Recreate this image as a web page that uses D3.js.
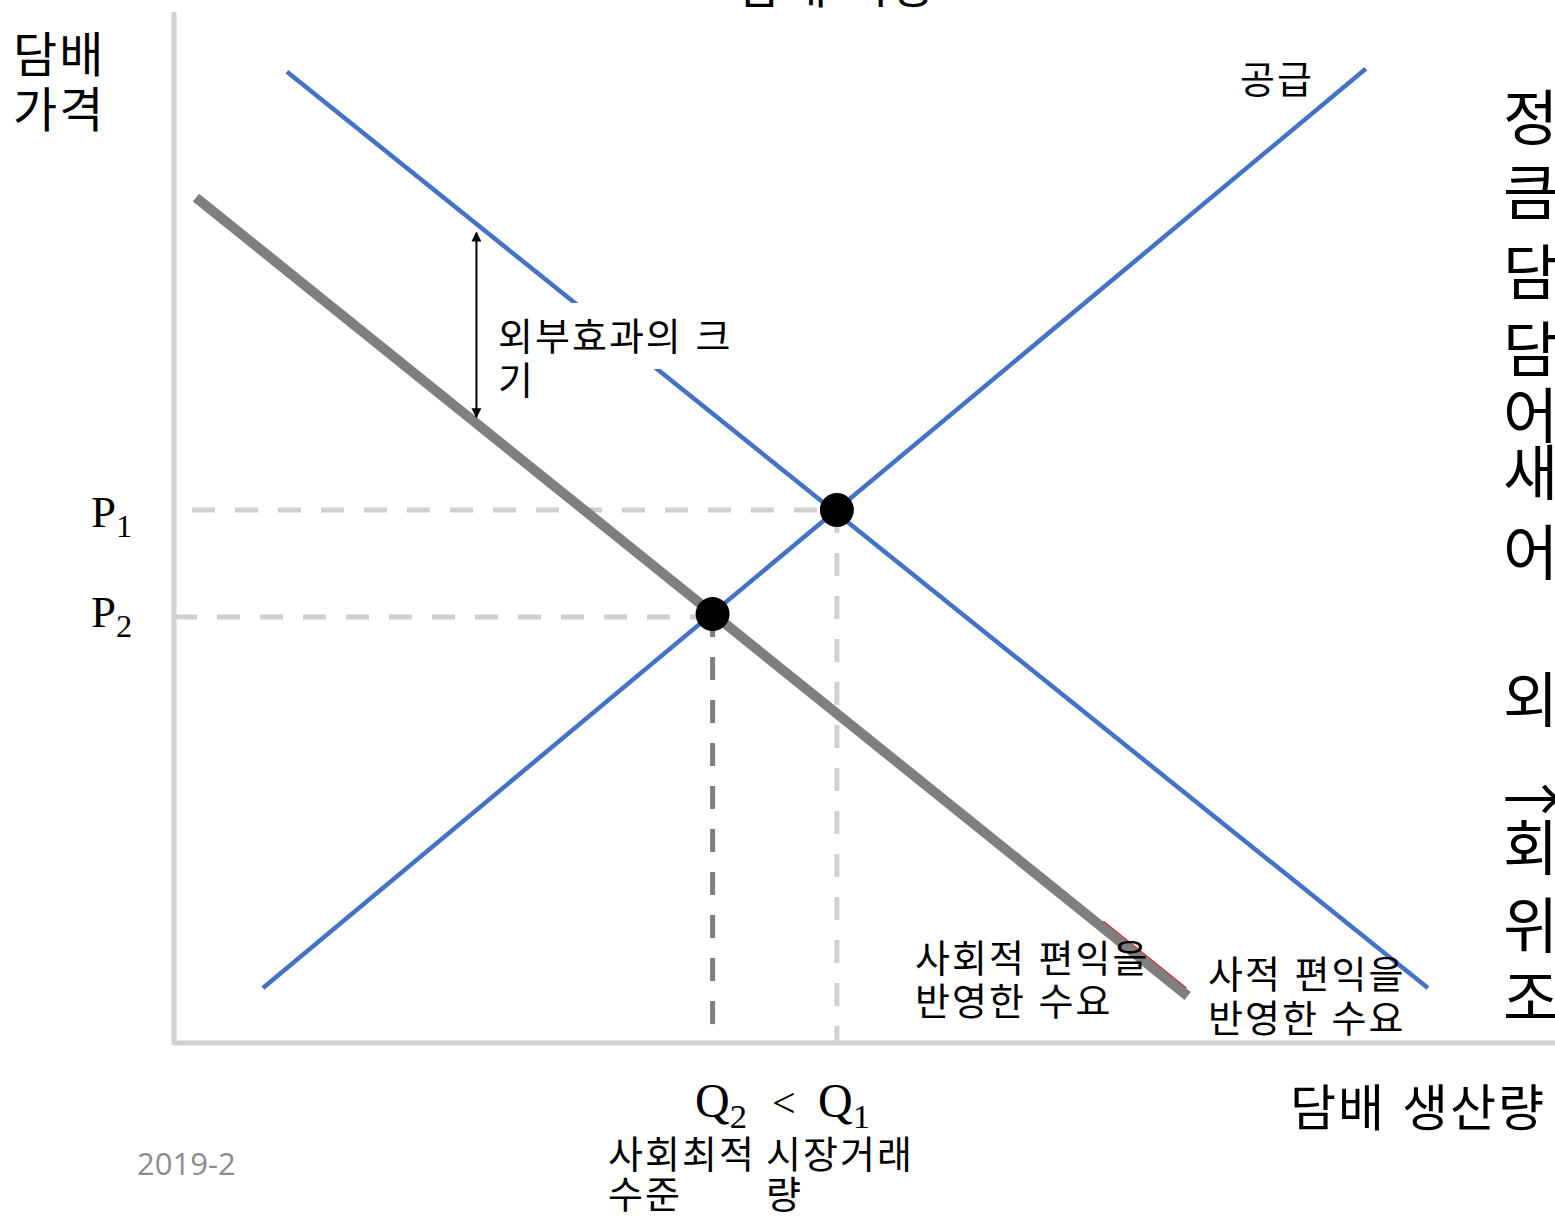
<!DOCTYPE html>
<html lang="ko">
  <head>
    <meta charset="UTF-8" />
    <title>담배 시장</title>
    <style>
      body {
        margin: 0;
        background: #fff;
      }
      .kr {
        font-family: "Noto Sans CJK KR", sans-serif;
        fill: #000;
        letter-spacing: 2px;
      }
      .serif {
        font-family: "Liberation Serif", "DejaVu Serif", serif;
        fill: #000;
      }
    </style>
  </head>
  <body>
    <svg width="1555" height="1221"></svg>
    <script src="https://cdnjs.cloudflare.com/ajax/libs/d3/7.8.5/d3.min.js"></script>
    <script>
      // 곡선 (수량, 가격) — 그림에서 읽은 값
      const supply = [[6.44, 5.33], [86.3, 94.5]];
      const privateDemand = [[8.18, 94.2], [90.8, 5.33]];
      const socialDemand = [[1.59, 82.0], [73.4, 4.56]];
      const redTrace = [[67.3, 11.8], [73.3, 5.33]];
      // 균형점
      const eq1 = { q: 48.0, p: 51.7 }; // 시장 균형
      const eq2 = { q: 39.0, p: 41.6 }; // 사회적 최적
      const pLine1 = 1.3; // P1 점선 시작
      // 외부효과 화살표
      const extArrow = { q: 21.9, top: 78.7, bottom: 60.6 };

      const rightChars = [
        ["정", 140], ["큼", 215], ["담", 295], ["담", 372], ["어", 438],
        ["새", 495], ["어", 575], ["외", 722], ["→", 822], ["회", 870],
        ["위", 948], ["조", 1020]
      ];

      const svg = d3.select("svg");
      const x = d3.scaleLinear().domain([0, 100]).range([174, 1555]);
      const y = d3.scaleLinear().domain([0, 100]).range([1043, 12]);
      const line = d3.line().x((d) => x(d[0])).y((d) => y(d[1]));

      svg.append("defs").selectAll("marker")
        .data(["start", "end"])
        .join("marker")
        .attr("id", (d) => "arr-" + d)
        .attr("viewBox", "0 0 10 10")
        .attr("refX", 9).attr("refY", 5)
        .attr("markerWidth", 5).attr("markerHeight", 5)
        .attr("orient", "auto-start-reverse")
        .append("path")
        .attr("d", "M0,0 L10,5 L0,10 z")
        .attr("fill", "#000");

      // 축
      svg.append("line")
        .attr("x1", x(0)).attr("x2", x(0))
        .attr("y1", y(100)).attr("y2", y(0) + 2)
        .attr("stroke", "#d0d0d0").attr("stroke-width", 5);
      svg.append("line")
        .attr("x1", x(0)).attr("x2", x(100))
        .attr("y1", y(0)).attr("y2", y(0))
        .attr("stroke", "#d0d0d0").attr("stroke-width", 5);

      // 점선
      const dash = "23,20";
      svg.append("line")
        .attr("x1", x(pLine1)).attr("x2", x(eq1.q))
        .attr("y1", y(eq1.p)).attr("y2", y(eq1.p))
        .attr("stroke", "#d0d0d0").attr("stroke-width", 5)
        .attr("stroke-dasharray", dash);
      svg.append("line")
        .attr("x1", x(0)).attr("x2", x(eq2.q))
        .attr("y1", y(eq2.p) + 3).attr("y2", y(eq2.p) + 3)
        .attr("stroke", "#d0d0d0").attr("stroke-width", 5)
        .attr("stroke-dasharray", dash);
      svg.append("line")
        .attr("x1", x(eq1.q)).attr("x2", x(eq1.q))
        .attr("y1", y(eq1.p)).attr("y2", y(0))
        .attr("stroke", "#d0d0d0").attr("stroke-width", 5)
        .attr("stroke-dasharray", dash);
      svg.append("line")
        .attr("x1", x(eq2.q)).attr("x2", x(eq2.q))
        .attr("y1", y(eq2.p)).attr("y2", y(0))
        .attr("stroke", "#7f7f7f").attr("stroke-width", 5)
        .attr("stroke-dasharray", dash);

      // 곡선
      svg.append("path").datum(redTrace).attr("d", line)
        .attr("stroke", "#e02020").attr("stroke-width", 1.5).attr("fill", "none");
      svg.append("path").datum(socialDemand).attr("d", line)
        .attr("stroke", "#7f7f7f").attr("stroke-width", 10).attr("fill", "none");
      svg.append("path").datum(privateDemand).attr("d", line)
        .attr("stroke", "#4472c4").attr("stroke-width", 4.5).attr("fill", "none");
      svg.append("path").datum(supply).attr("d", line)
        .attr("stroke", "#4472c4").attr("stroke-width", 4.5).attr("fill", "none");

      // 라벨 배경 상자
      svg.append("rect")
        .attr("x", 495).attr("y", 303).attr("width", 245).attr("height", 66)
        .attr("fill", "#fff");

      svg.append("line")
        .attr("x1", x(extArrow.q)).attr("x2", x(extArrow.q))
        .attr("y1", y(extArrow.top) + 1).attr("y2", y(extArrow.bottom) - 1)
        .attr("stroke", "#000").attr("stroke-width", 2)
        .attr("marker-start", "url(#arr-start)")
        .attr("marker-end", "url(#arr-end)");

      svg.selectAll("circle.eq")
        .data([eq1, eq2])
        .join("circle")
        .attr("class", "eq")
        .attr("cx", (d) => x(d.q)).attr("cy", (d) => y(d.p))
        .attr("r", 17).attr("fill", "#000");

      // 텍스트
      function txt(str, tx, ty, size) {
        return svg.append("text").attr("class", "kr")
          .attr("x", tx).attr("y", ty).attr("font-size", size).text(str);
      }
      txt("담배 시장", 737, 3, 48);
      txt("담배", 13, 72, 48);
      txt("가격", 13, 127, 48);
      txt("공급", 1240, 93, 38);
      txt("외부효과의 크", 498, 350, 38);
      txt("기", 498, 394, 38);
      txt("사회적 편익을", 915, 972, 38);
      txt("반영한 수요", 915, 1015, 38);
      txt("사적 편익을", 1208, 988, 38);
      txt("반영한 수요", 1208, 1032, 38);
      txt("사회최적", 608, 1168, 38);
      txt("시장거래", 766, 1168, 38);
      txt("수준", 608, 1208, 38);
      txt("량", 766, 1208, 38);
      txt("담배 생산량", 1290, 1126, 50);
      txt("2019-2", 137, 1175, 31).style("fill", "#8c8c8c")
        .style("letter-spacing", "0px")
        .style("font-family", "'Open Sans', sans-serif");

      function sub(main, s, tx, ty, size) {
        const t = svg.append("text").attr("class", "serif")
          .attr("x", tx).attr("y", ty).attr("font-size", size);
        t.append("tspan").text(main);
        t.append("tspan").attr("dy", size * 0.22).attr("font-size", size * 0.72).text(s);
        return t;
      }
      sub("P", "1", 91, 527, 45);
      sub("P", "2", 91, 627, 45);
      sub("Q", "2", 695, 1117, 48);
      svg.append("text").attr("class", "serif").attr("x", 772).attr("y", 1117)
        .attr("font-size", 42).text("<");
      sub("Q", "1", 818, 1117, 48);

      svg.selectAll("text.side")
        .data(rightChars)
        .join("text")
        .attr("class", "side kr")
        .attr("x", 1503).attr("y", (d) => d[1])
        .attr("font-size", 60)
        .text((d) => d[0]);
    </script>
  </body>
</html>
